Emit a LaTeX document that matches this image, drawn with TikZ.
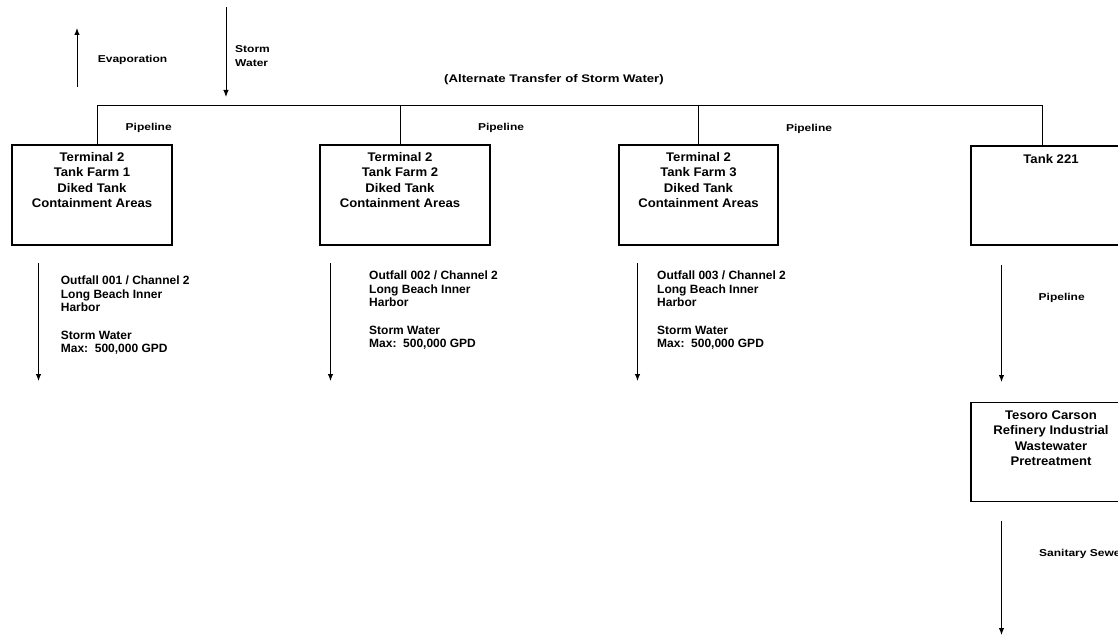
\documentclass[tikz,border=0pt]{standalone}
\usepackage{fontspec}
\setmainfont{Liberation Sans}
\newfontfamily\widefont{Liberation Sans}[FakeStretch=1.2]
\newfontfamily\boxfont{Liberation Sans}[FakeStretch=1.05]
\usetikzlibrary{arrows.meta}
\begin{document}
\begin{tikzpicture}[x=1pt,y=-1pt,
  line/.style={line width=1pt},
  flow/.style={line width=1pt,-{Latex[length=7pt,width=5.5pt]}},
  box/.style={draw,line width=1.2pt,inner sep=0pt},
  boxtext/.style={inner sep=0pt,anchor=north,align=center,
    font=\boxfont\bfseries\fontsize{12.5}{15.5}\selectfont},
  lab/.style={inner sep=0pt,font=\widefont\bfseries\fontsize{10}{14}\selectfont},
  outtext/.style={inner sep=0pt,anchor=north west,align=left,
    font=\bfseries\fontsize{12}{13.5}\selectfont}]
\useasboundingbox (0,0) rectangle (1118,636);
\clip (0,0) rectangle (1118,636);
% evaporation / storm water
\coordinate (ev1) at (77,87);
\coordinate (ev2) at (77,28);
\draw[flow] (ev1) -- (ev2);
\node[lab,anchor=base west] (evap) at (97.7,62.6) {Evaporation};
\coordinate (sw1) at (226,7);
\coordinate (sw2) at (226,97);
\draw[flow] (sw1) -- (sw2);
\node[lab,anchor=north west,align=left] (storm) at (235,45.6) {Storm\\Water};
\node[inner sep=0pt,anchor=base,font=\widefont\bfseries\fontsize{11}{13}\selectfont] (alt) at (554,83) {(Alternate Transfer of Storm Water)};
% boxes
\node[box,minimum width=160pt,minimum height=100pt] (b1) at (92,195) {};
\node[box,minimum width=170pt,minimum height=100pt] (b2) at (405,195) {};
\node[box,minimum width=159pt,minimum height=100pt] (b3) at (698.5,195) {};
\node[box,minimum width=160pt,minimum height=99pt] (b4) at (1051,195.5) {};
\node[box,minimum width=160pt,minimum height=99pt] (b5) at (1051,452.2) {};
\node[boxtext] (t1) at ([yshift=-7.5pt]b1.north) {Terminal 2\\Tank Farm 1\\Diked Tank\\Containment Areas};
\node[boxtext] (t2) at ([yshift=-7.5pt]b2.north -| 400,0) {Terminal 2\\Tank Farm 2\\Diked Tank\\Containment Areas};
\node[boxtext] (t3) at ([yshift=-7.5pt]b3.north) {Terminal 2\\Tank Farm 3\\Diked Tank\\Containment Areas};
\node[boxtext] (t4) at ([yshift=-8.5pt]b4.north) {Tank 221};
\node[boxtext] (t5) at ([yshift=-8pt]b5.north) {Tesoro Carson\\Refinery Industrial\\Wastewater\\Pretreatment};
% header pipe
\coordinate (j1) at (97,106);
\coordinate (j2) at (400.7,106);
\coordinate (j3) at (698,106);
\coordinate (j4) at (1042,106);
\draw[line] (j1 |- b1.north) -- (j1) -- (j4) -- (j4 |- b4.north);
\draw[line] (j2) -- (j2 |- b2.north);
\draw[line] (j3) -- (j3 |- b3.north);
\node[lab,anchor=base] (p1) at (148.7,130.6) {Pipeline};
\node[lab,anchor=base] (p2) at (501,130.6) {Pipeline};
\node[lab,anchor=base] (p3) at (809,131.3) {Pipeline};
% outfalls
\coordinate (o1a) at (38.5,263); \coordinate (o1b) at (38.5,381);
\coordinate (o2a) at (330.5,263); \coordinate (o2b) at (330.5,381);
\coordinate (o3a) at (637.5,263); \coordinate (o3b) at (637.5,381);
\draw[flow] (o1a) -- (o1b);
\draw[flow] (o2a) -- (o2b);
\draw[flow] (o3a) -- (o3b);
\node[outtext] (ot1) at (60.7,275.7) {Outfall 001 / Channel 2\\Long Beach Inner\\Harbor\\[14pt]Storm Water\\Max:\ \ 500,000 GPD};
\node[outtext] (ot2) at (369,270.7) {Outfall 002 / Channel 2\\Long Beach Inner\\Harbor\\[14pt]Storm Water\\Max:\ \ 500,000 GPD};
\node[outtext] (ot3) at (657,270.7) {Outfall 003 / Channel 2\\Long Beach Inner\\Harbor\\[14pt]Storm Water\\Max:\ \ 500,000 GPD};
% tank 221 to refinery
\coordinate (k1) at (1001.5,265);
\coordinate (k2) at (1001.5,382);
\draw[flow] (k1) -- (k2);
\node[lab,anchor=base] (p4) at (1061.7,300.3) {Pipeline};
\coordinate (s1) at (1001.5,520.5);
\coordinate (s2) at (1001.5,635);
\draw[flow] (s1) -- (s2);
\node[lab,anchor=base west] (san) at (1039,556.3) {Sanitary Sewer};
\end{tikzpicture}
\end{document}
